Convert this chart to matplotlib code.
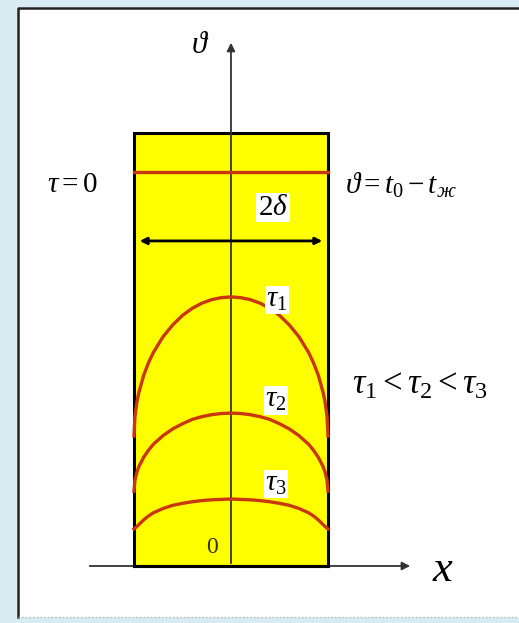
import matplotlib.pyplot as plt
from matplotlib.patches import Rectangle

plt.rcParams['mathtext.fontset'] = 'custom'
plt.rcParams['mathtext.rm'] = 'Liberation Serif'
plt.rcParams['mathtext.it'] = 'Liberation Serif:italic'
plt.rcParams['font.family'] = ['Liberation Serif', 'DejaVu Serif']

# half-thickness of the plate is 1, temperature excess scaled so that t0 - t_zh = 1
half_width = 1.0
theta0 = 1.0

x_half = [1.0, 0.99, 0.97, 0.95, 0.9, 0.85, 0.8, 0.7, 0.6, 0.5, 0.4, 0.3, 0.2, 0.1, 0.0]
tau1_half = [0.330, 0.380, 0.416, 0.440, 0.484, 0.516, 0.542, 0.582, 0.612, 0.636, 0.654, 0.667, 0.676, 0.681, 0.683]
tau2_half = [0.190, 0.218, 0.238, 0.252, 0.276, 0.294, 0.309, 0.331, 0.348, 0.361, 0.372, 0.379, 0.384, 0.387, 0.388]
tau3_half = [0.094, 0.096, 0.100, 0.105, 0.117, 0.127, 0.135, 0.146, 0.154, 0.159, 0.163, 0.166, 0.168, 0.169, 0.170]
curve_labels = [r'$\tau_1$', r'$\tau_2$', r'$\tau_3$']
label_pos = [(0.474, 0.675), (0.464, 0.421), (0.464, 0.208)]

red = '#c8380c'

# profiles are symmetric about the mid-plane
x_pts = [-v for v in x_half] + x_half[::-1][1:]
def mirror(half):
    return half + half[::-1][1:]

fig = plt.figure(figsize=(5.19, 6.23), dpi=100)
fig.patch.set_facecolor('#d8ebf2')

# white panel with a dark top/left rim
bg = fig.add_axes([0, 0, 1, 1])
bg.set_xlim(0, 519)
bg.set_ylim(623, 0)
bg.axis('off')
bg.add_patch(Rectangle((17, 7), 520, 610, facecolor='white', edgecolor='none'))
bg.plot([18, 18, 519], [617, 8, 8], color='#222222', lw=1.8)
bg.plot([18, 519], [617, 617], color='#bbbbbb', lw=1, ls=':')

ax = fig.add_axes([0, 0, 1, 1])
ax.patch.set_alpha(0)
ax.set_xlim(-2.381, 2.969)
ax.set_ylim(-0.1447, 1.4365)
ax.axis('off')

# the plate
ax.add_patch(Rectangle((-half_width, 0), 2 * half_width, 1.1,
                       facecolor='#ffff00', edgecolor='black', lw=2.2, zorder=1))

# axes arrows
ax.annotate('', xy=(1.876, 0), xytext=(-1.485, 0),
            arrowprops=dict(arrowstyle='-|>', color='#333333', lw=1.3, mutation_scale=12), zorder=2)
ax.annotate('', xy=(0, 1.335), xytext=(0, 0),
            arrowprops=dict(arrowstyle='-|>', color='#333333', lw=1.3, mutation_scale=12), zorder=2)
ax.plot([-half_width, half_width], [0, 0], color='black', lw=2.2, zorder=3)

# initial profile
ax.plot([-half_width, half_width], [theta0, theta0], color=red, lw=2.4, zorder=4)

# profiles at later moments
for half in (tau1_half, tau2_half, tau3_half):
    ax.plot(x_pts, mirror(half), color=red, lw=2.4, zorder=4, solid_joinstyle='round')

for lab, (lx, ly) in zip(curve_labels, label_pos):
    ax.text(lx, ly, lab, fontsize=21, ha='center', va='center', zorder=6,
            bbox=dict(facecolor='white', edgecolor='none', pad=1))

# thickness arrow
ax.annotate('', xy=(0.97, 0.825), xytext=(-0.97, 0.825),
            arrowprops=dict(arrowstyle='<|-|>', color='black', lw=2, mutation_scale=10), zorder=5)
ax.text(0.433, 0.909, r'$2\delta$', fontsize=21, ha='center', va='center', zorder=6,
        bbox=dict(facecolor='white', edgecolor='none', pad=1))

ax.text(-0.196, 0.046, '0', fontsize=17, ha='center', va='center', color='#333300', zorder=6)
ax.text(-1.64, 0.967, r'$\tau = 0$', fontsize=21, ha='center', va='center')
ax.text(1.175, 0.967, r'$\vartheta = t_0 - t_{ж}$', fontsize=21, ha='left', va='center')
ax.text(1.247, 0.459, r'$\tau_1 < \tau_2 < \tau_3$', fontsize=25, ha='left', va='center')
ax.text(-0.32, 1.322, r'$\vartheta$', fontsize=22, ha='center', va='center')
ax.text(2.186, -0.01, r'$x$', fontsize=32, ha='center', va='center')

fig.savefig('out.png', dpi=100, facecolor=fig.get_facecolor())
